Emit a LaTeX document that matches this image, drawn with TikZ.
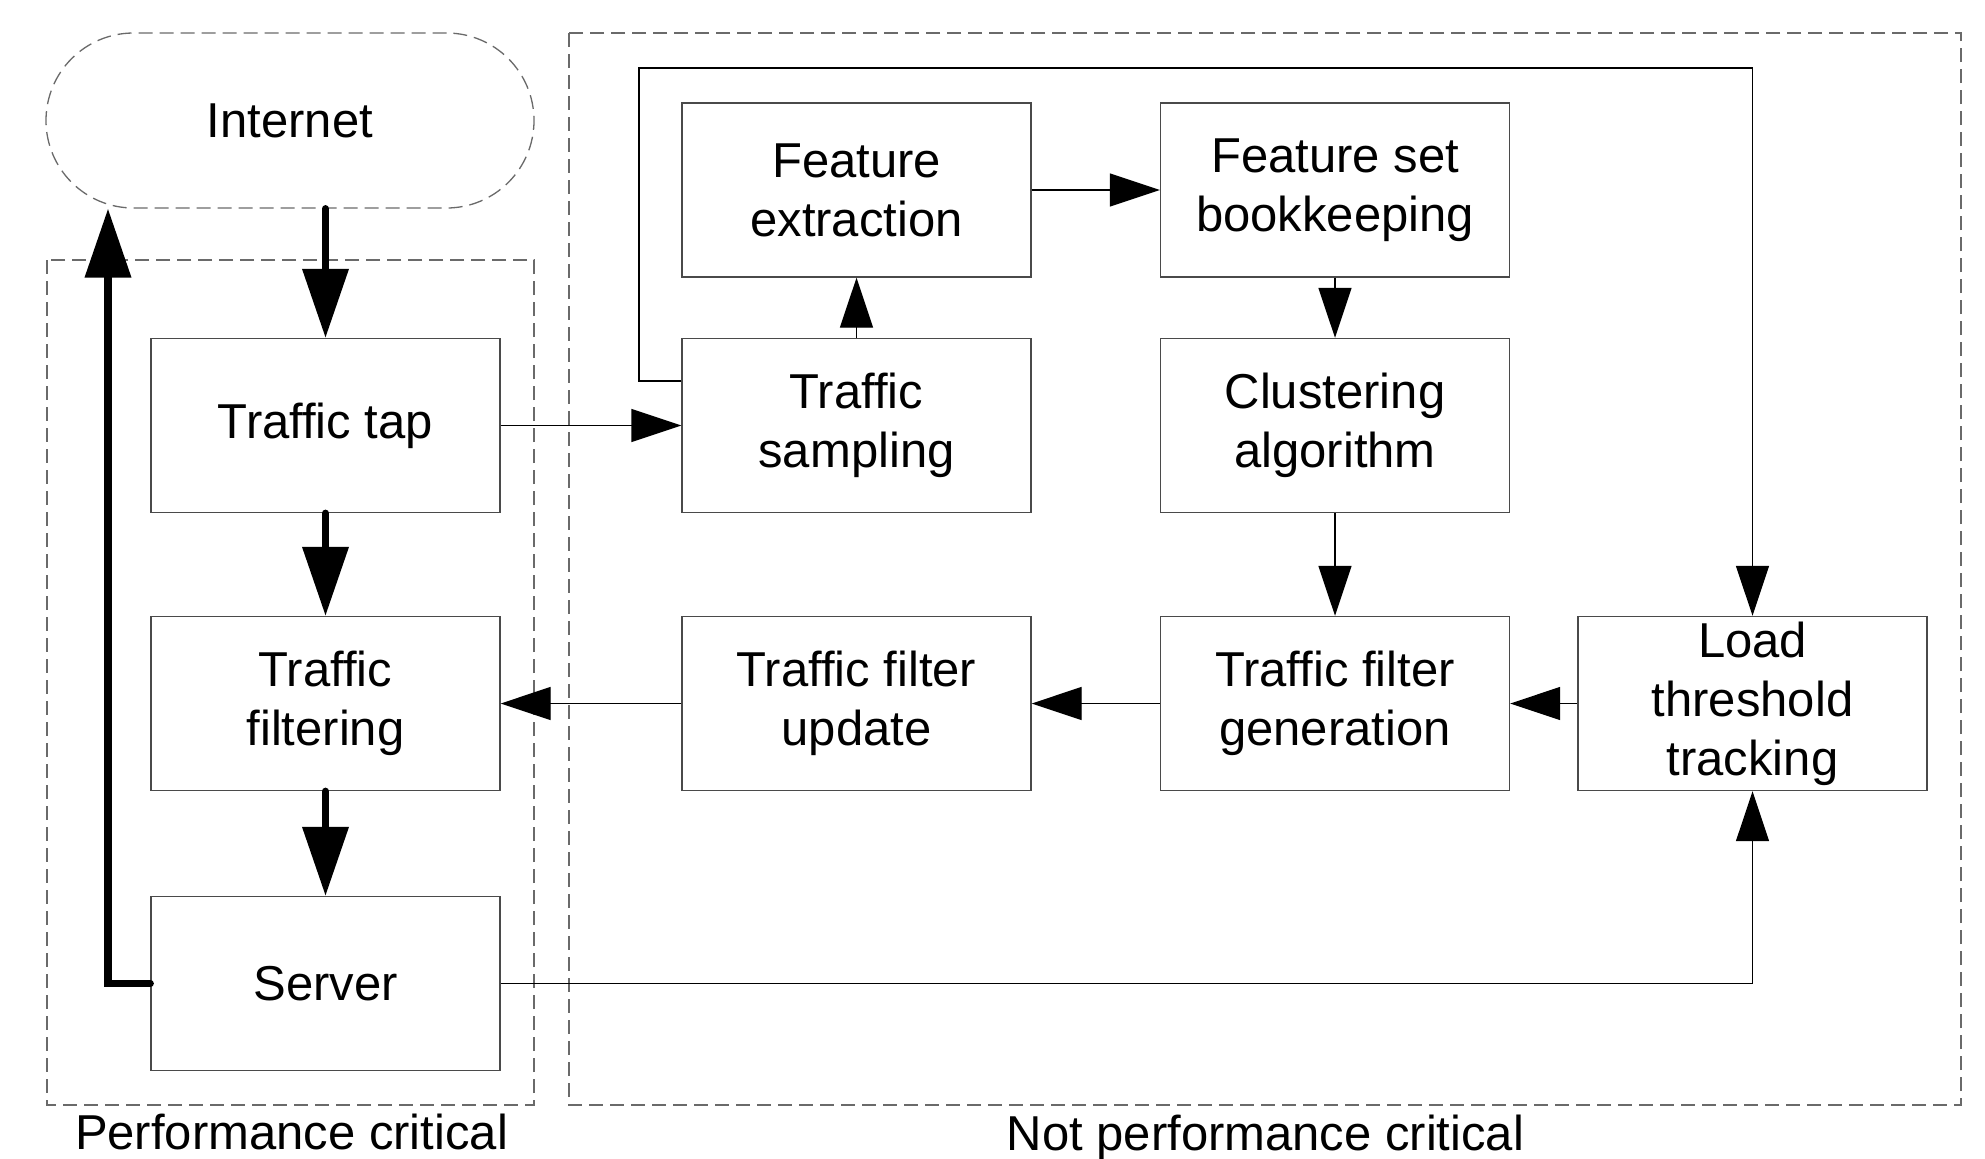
\documentclass[tikz,border=0pt]{standalone}
\usepackage{fontspec}
\setmainfont{Liberation Sans}
\usetikzlibrary{arrows.meta,calc}
\definecolor{boxline}{HTML}{4A4A4A}
\definecolor{dashline}{HTML}{6A6A6A}
\tikzset{
  blk/.style={draw=boxline, line width=0.7pt, fill=white, minimum width=174.5pt, minimum height=87pt,
    inner sep=0pt, align=center, font=\fontsize{24.5pt}{29.5pt}\selectfont},
  region/.style={draw=dashline, line width=0.65pt, dash pattern=on 7pt off 3.5pt},
  thinarr/.style={line width=0.7pt, draw=black, -{Triangle[length=25pt,width=16.5pt]}},
  thickarr/.style={line width=3.6pt, line cap=round, -{Triangle[length=34.5pt,width=22.5pt]}},
  lbl/.style={font=\fontsize{24.5pt}{29.5pt}\selectfont, anchor=base, inner sep=0pt}
}
\begin{document}
\begin{tikzpicture}[x=0.5pt,y=-0.5pt]
\useasboundingbox (0,0) rectangle (1985,1158);
\clip (0,0) rectangle (1985,1158);
\fill[white] (0,0) rectangle (1985,1158);
% regions
\draw[region] (47,260) rectangle (534,1105);
\draw[region] (569,33) rectangle (1961,1105);
\node[lbl] (lperf) at (291.5,1149) {Performance critical};
\node[lbl] (lnperf) at (1265.5,1150) {Not performance critical};
% internet
\node[draw=dashline, line width=0.65pt, dash pattern=on 7pt off 3.5pt, rounded corners=43.75pt,
  minimum width=244pt, minimum height=87.5pt, inner sep=0pt,
  font=\fontsize{24.5pt}{29.5pt}\selectfont] (internet) at (290,120.5) {Internet};
% boxes
\node[blk] (tap) at (325.5,425.5) {Traffic tap};
\node[blk] (filt) at (325.5,703.5) {Traffic\\filtering};
\node[blk] (server) at (325.5,983.5) {Server};
\node[blk] (fe) at (856.5,190) {Feature\\extraction};
\node[blk] (samp) at (856.5,425.5) {Traffic\\sampling};
\node[blk] (fsb) at (1335,190) {Feature set\\bookkeeping};
\node[blk] (clus) at (1335,425.5) {Clustering\\algorithm};
\node[blk] (upd) at (856.5,703.5) {Traffic filter\\update};
\node[blk] (gen) at (1335,703.5) {Traffic filter\\generation};
\node[blk] (load) at (1752.5,703.5) {Load\\threshold\\tracking};
% thick arrows
\draw[thickarr] (tap.north |- internet.south) -- (tap.north);
\draw[thickarr] (tap.south) -- (filt.north);
\draw[thickarr] (filt.south) -- (server.north);
\coordinate (sc) at (108,983.5);
\draw[thickarr, line join=miter] (server.west) -- (sc) -- (sc |- internet.south);
% thin arrows
\draw[thinarr] (tap.east) -- (samp.west);
\draw[thinarr] (samp.north) -- (fe.south);
\draw[thinarr] (fe.east) -- (fsb.west);
\draw[thinarr] (fsb.south) -- (clus.north);
\draw[thinarr] (clus.south) -- (gen.north);
\draw[thinarr] (load.west) -- (gen.east);
\draw[thinarr] (gen.west) -- (upd.east);
\draw[thinarr] (upd.west) -- (filt.east);
\coordinate (lt) at (639,68);
\draw[thinarr] ($(samp.west)+(0,-44.5)$) -| (lt) -| (load.north);
\draw[thinarr] (server.east) -| (load.south);
\end{tikzpicture}
\end{document}
